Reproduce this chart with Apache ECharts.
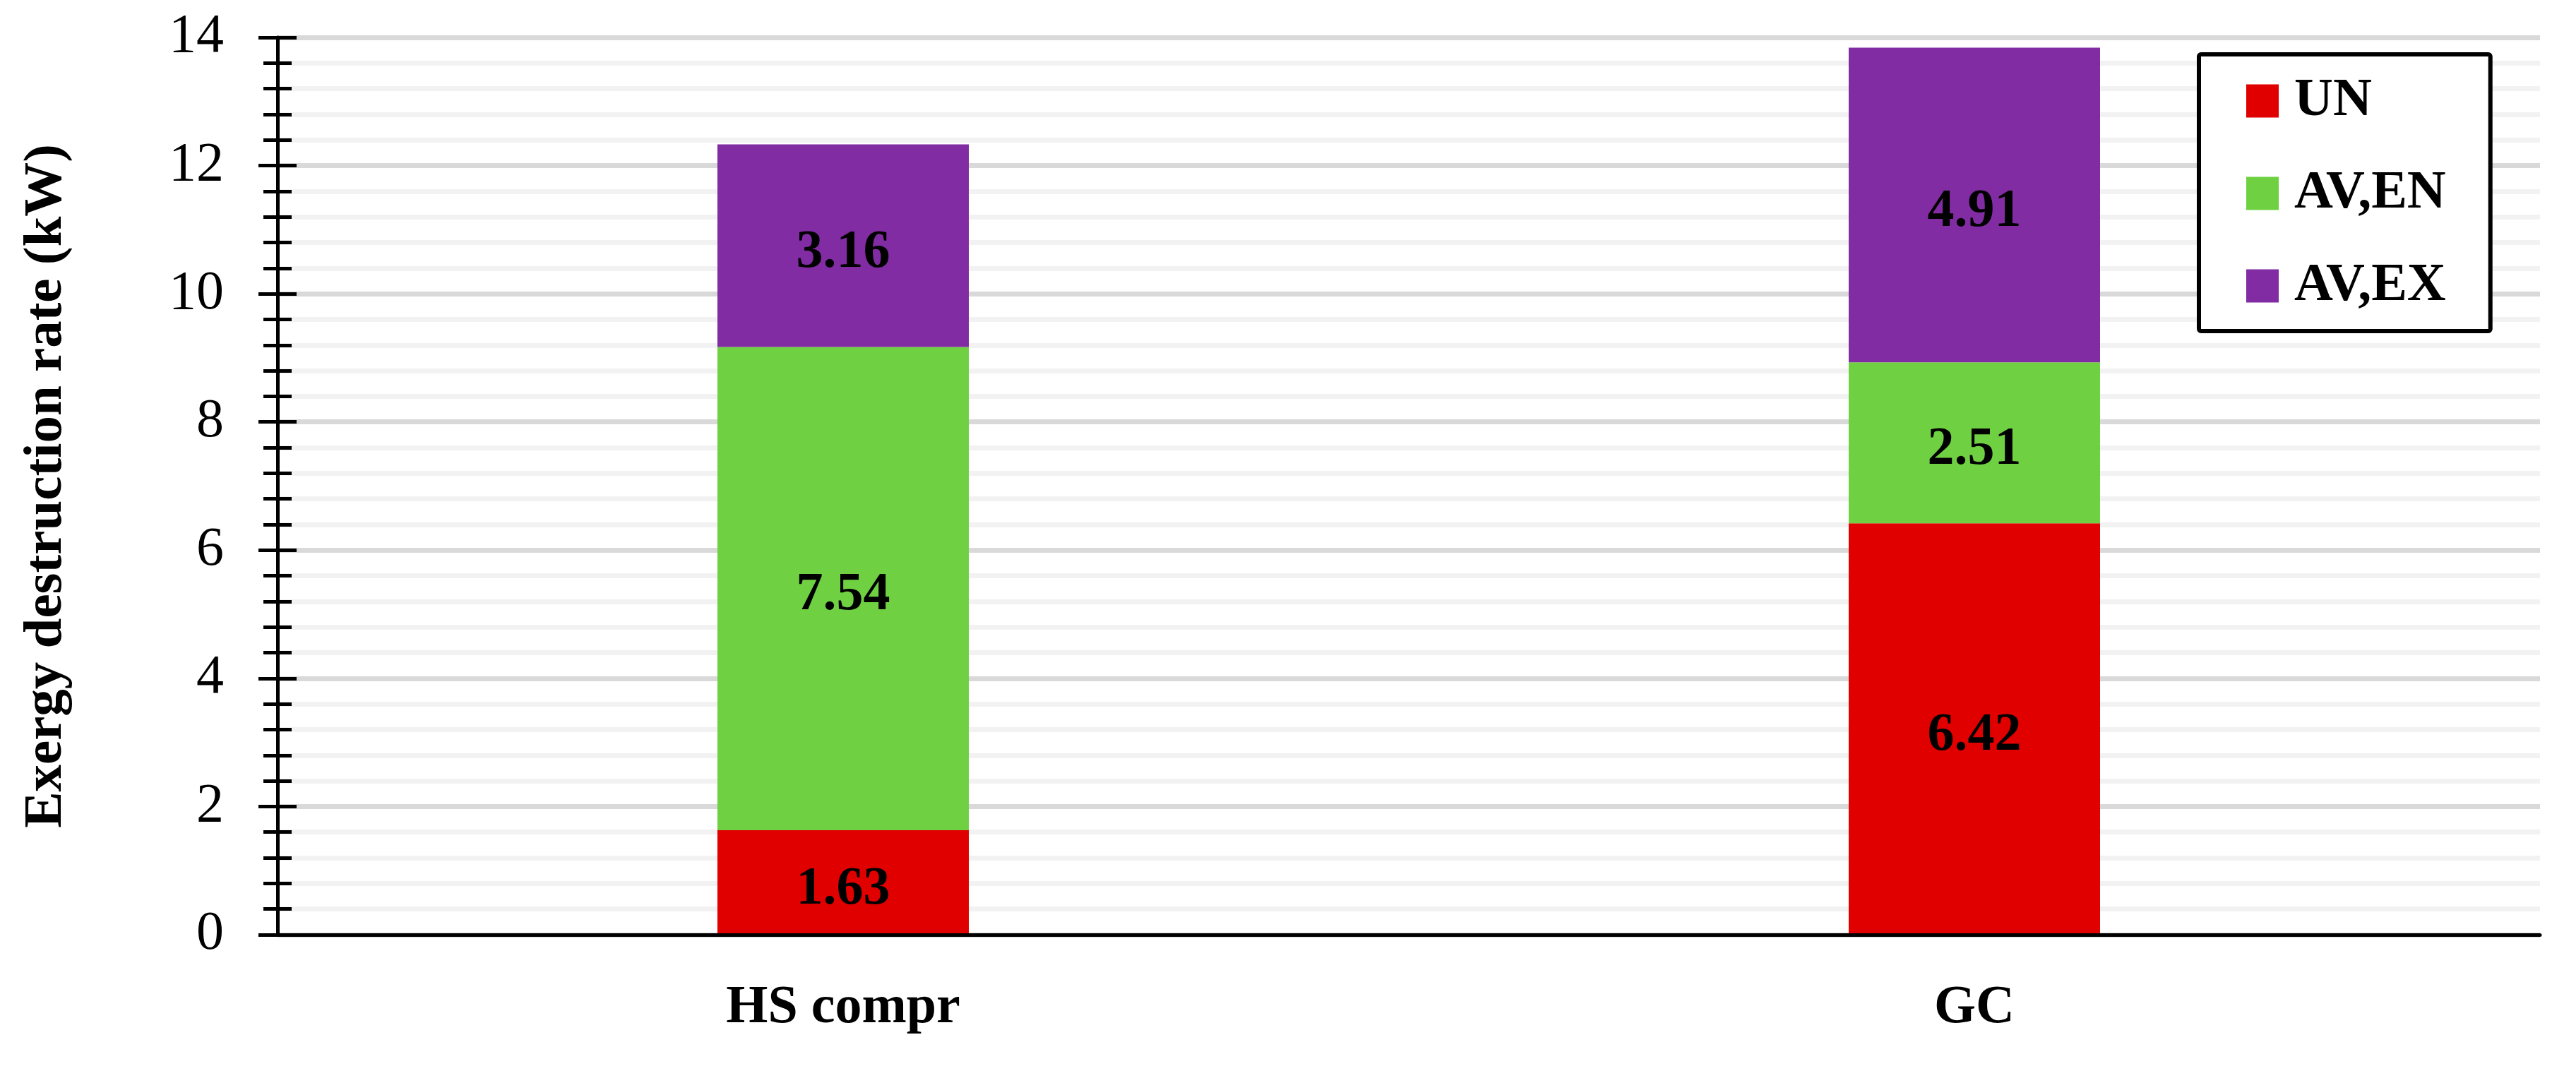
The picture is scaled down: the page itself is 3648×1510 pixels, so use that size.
<!DOCTYPE html>
<html>
<head>
<meta charset="utf-8">
<script src="https://cdn.jsdelivr.net/npm/echarts@6/dist/echarts.min.js"></script>
<style>
  html, body { margin: 0; padding: 0; background: #fff; }
  #chart { width: 3648px; height: 1510px; }
</style>
</head>
<body>
<div id="chart"></div>
<script>
const categories = ['HS compr', 'GC'];
const seriesNames = ['UN', 'AV,EN', 'AV,EX'];
const unValues = [1.63, 6.42];
const avEnValues = [7.54, 2.51];
const avExValues = [3.16, 4.91];
const yTicks = { min: 0, max: 14, interval: 2 };

const colors = ['#e00000', '#6fd142', '#812ca3'];
const serif = '"Liberation Serif", "Times New Roman", serif';

const chart = echarts.init(document.getElementById('chart'));

function barSeries(name, values) {
  return {
    name: name,
    type: 'bar',
    stack: 'total',
    barWidth: 356,
    z: 2,
    data: values,
    label: {
      show: true,
      position: 'inside',
      offset: [0, 10],
      color: '#000',
      fontFamily: serif,
      fontWeight: 'bold',
      fontSize: 76,
      formatter: function(p) { return p.value.toFixed(2); }
    }
  };
}

chart.setOption({
  color: colors,
  backgroundColor: '#fff',
  animation: false,
  grid: {
    left: 393,
    right: 51,
    top: 53,
    bottom: 186
  },
  legend: {
    orient: 'vertical',
    left: 3114,
    top: 77,
    padding: [28, 63, 26, 67],
    itemGap: 55,
    itemWidth: 46,
    itemHeight: 47,
    icon: 'rect',
    borderColor: '#000',
    borderWidth: 6,
    borderRadius: 3,
    backgroundColor: '#fff',
    data: seriesNames,
    textStyle: {
      color: '#000',
      fontFamily: serif,
      fontWeight: 'bold',
      fontSize: 76,
      lineHeight: 76,
      padding: [0, 0, 0, 17]
    }
  },
  xAxis: [{
    type: 'category',
    data: categories,
    position: 'bottom',
    z: 3,
    axisLine: { lineStyle: { color: '#000', width: 5 } },
    axisTick: { length: 27, lineStyle: { color: '#000', width: 5 } },
    axisLabel: {
      margin: 66,
      color: '#000',
      fontFamily: serif,
      fontWeight: 'bold',
      fontSize: 76
    },
    splitLine: { show: false }
  }, {
    type: 'category',
    data: categories,
    position: 'bottom',
    z: 3,
    axisLine: { show: false },
    axisTick: { inside: true, length: 27, lineStyle: { color: '#000', width: 5 } },
    axisLabel: { show: false },
    splitLine: { show: false }
  }],
  yAxis: [{
    type: 'value',
    min: yTicks.min,
    max: yTicks.max,
    interval: yTicks.interval,
    position: 'left',
    z: 0,
    name: 'Exergy destruction rate (kW)',
    nameLocation: 'middle',
    nameGap: 288,
    nameTextStyle: {
      color: '#000',
      fontFamily: serif,
      fontWeight: 'bold',
      fontSize: 77
    },
    axisLine: { show: true, lineStyle: { color: '#000', width: 5 } },
    axisTick: { show: true, length: 27, lineStyle: { color: '#000', width: 5 } },
    minorTick: { show: true, splitNumber: 5, length: 20, lineStyle: { color: '#000', width: 5 } },
    axisLabel: {
      margin: 76,
      color: '#000',
      fontFamily: serif,
      fontSize: 78
    },
    splitLine: { show: true, lineStyle: { color: '#d9d9d9', width: 7 } },
    minorSplitLine: { show: true, lineStyle: { color: '#f2f2f2', width: 7 } }
  }, {
    type: 'value',
    min: yTicks.min,
    max: yTicks.max,
    interval: yTicks.interval,
    position: 'left',
    z: 3,
    axisLine: { show: false },
    axisTick: { show: true, inside: true, length: 27, lineStyle: { color: '#000', width: 5 } },
    minorTick: { show: true, splitNumber: 5, length: 20, lineStyle: { color: '#000', width: 5 } },
    axisLabel: { show: false },
    splitLine: { show: false }
  }],
  series: [
    barSeries(seriesNames[0], unValues),
    barSeries(seriesNames[1], avEnValues),
    barSeries(seriesNames[2], avExValues)
  ]
});
</script>
</body>
</html>
